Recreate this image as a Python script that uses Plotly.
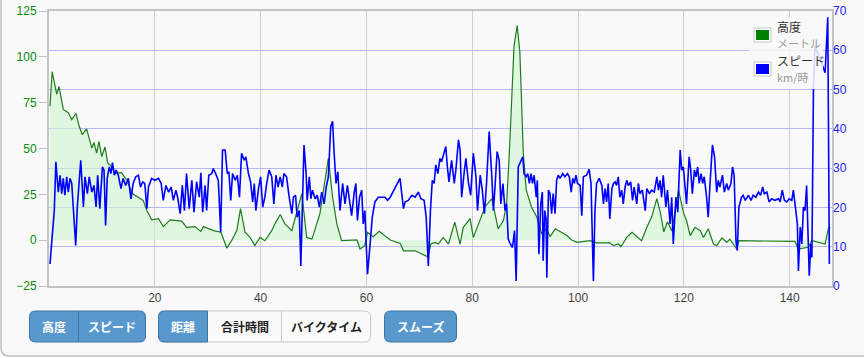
import plotly.graph_objects as go

# ---------------- data ----------------
elev_dist = [0.19, 0.6, 1.45, 1.9, 2.7, 3.65, 4.3, 5.1, 5.7, 6.3, 7.1, 8.1, 8.5, 9.0, 9.45, 9.96, 10.6, 11.1,
             11.7, 12.5, 13.7, 14.7, 15.75, 17.8, 18.5, 19.4, 20.7, 21.6, 22.9, 25.1, 26.0, 27.6, 28.7, 29.2,
             31.1, 32.5, 33.6, 34.5, 35.5, 36.2, 37.05, 38.0, 38.9, 39.9, 40.8, 42.1, 42.7, 43.7, 44.6, 45.9,
             47.1, 47.8, 48.7, 49.7, 51.2, 52.8, 53.6, 54.4, 55.3, 58.2, 58.8, 59.7, 60.2, 61.3, 62.4, 64.5,
             66.4, 67.0, 69.2, 71.6, 72.2, 73.0, 73.6, 74.5, 75.5, 76.7, 77.7, 78.3, 79.6, 80.2, 81.2, 82.4,
             83.7, 84.9, 85.9, 86.5, 87.1, 87.9, 88.5, 89.0, 89.65, 90.2, 91.2, 92.2, 93.1, 94.1, 94.7, 95.7,
             97.9, 98.8, 99.8, 102.3, 103.5, 106.0, 106.7, 107.6, 108.1, 109.2, 110.2, 111.4, 112.0, 113.0,
             113.9, 114.9, 115.6, 116.2, 116.9, 117.4, 117.7, 119.0, 119.9, 120.5, 121.2, 122.1, 123.1, 123.7,
             124.6, 125.6, 126.2, 127.2, 128.1, 128.7, 129.4, 130.0, 130.4, 141.0, 141.6, 143.5, 144.2, 146.7,
             147.3, 147.7]
elevation = [73, 91.9, 79.6, 83.8, 71.3, 69.5, 65.8, 69.1, 62.1, 57.5, 60.7, 50.2, 53.3, 47.5, 53.9, 45.6, 50.8, 42,
             40.5, 36.5, 36.8, 32.8, 25.4, 21.7, 16.2, 11.1, 11.7, 7.4, 11.1, 10.4, 7.0, 7.4, 4.8, 7.4,
             5.2, 4.3, -4.3, -0.3, 5.2, 17.2, 4.3, 1.5, -3, 1.5, -0.3, 5.2, 8.9, 14, 8.9, 5.2,
             18.1, 25.4, 1.5, 0.6, 14.4, 44.7, 23.6, 8.9, -0.3, 0.1, -4.8, -3, 4.3, 1.9, 4.8, 0.1,
             -1.8, -5.8, -5.8, -9.1, -2.1, -1.2, -2.1, 1.5, -2.1, 9.8, -2.1, 7.0, 11.7, 1.5, 8.9, 18.1,
             22.7, 6.2, 10.7, 19.9, 53, 106, 117, 102.5, 47.5, 27.3, 18.1, 12.6, 3.7, 6.2, 1.9, 6.2,
             2.5, 0.1, -1.2, -0.3, -1.5, -1.5, -3, -2.1, -3.6, 1.5, 4.3, 1.5, -0.3, 7,
             12.6, 22.7, 14.4, 4.5, 10, 7, 5, 27.3, 15.3, 10.7, 2.5, 7, 5.2, 1.5,
             6.2, -2.1, -3, 1.2, -1.2, 0.6, -2.1, -4.8, -0.3, -0.7, -4.8, -3.9, -0.3, -2.1,
             6.2, 7]

speed_dist = [0.19, 0.6, 1.0, 1.3, 1.76, 2.1, 2.4, 2.7, 3.0, 3.35, 3.65, 3.97, 4.3, 5.05, 5.35, 6.0, 6.5, 6.8,
              7.25, 7.6, 8.1, 8.5, 8.9, 9.2, 9.6, 10.1, 10.4, 10.7, 11.0, 11.4, 11.7, 12.0, 12.35, 12.7, 13.1,
              13.6, 14.0, 14.5, 15.0, 15.5, 15.9, 16.4, 16.9, 17.3, 17.7, 18.1, 18.5, 18.8, 19.4, 20.0, 20.7,
              21.2, 21.6, 22.1, 22.6, 23.1, 23.5, 24.0, 24.3, 24.8, 25.2, 25.6, 26.0, 26.5, 27.0, 27.4, 27.9,
              28.4, 28.7, 29.05, 29.5, 29.8, 30.2, 30.75, 31.05, 31.5, 32.0, 32.45, 32.8, 33.3, 33.7, 34.0,
              34.35, 34.7, 35.2, 35.6, 36.0, 36.4, 36.9, 37.2, 37.7, 38.1, 38.5, 38.8, 39.1, 39.6, 40.0, 40.4,
              40.8, 41.15, 41.6, 42.1, 42.5, 42.9, 43.3, 43.7, 44.1, 44.4, 44.9, 45.4, 45.9, 46.2, 46.6, 46.9,
              47.3, 47.6, 47.9, 48.2, 48.6, 48.8, 49.2, 49.5, 49.8, 50.3, 50.7, 51.1, 51.55, 52.0, 52.4, 52.8,
              53.25, 53.6, 53.9, 54.25, 54.6, 55.0, 55.5, 55.95, 56.4, 56.8, 57.2, 57.7, 58.0, 58.3, 58.7,
              59.1, 59.4, 59.7, 60.2, 60.7, 61.1, 61.6, 62.25, 63.5, 64.0, 64.5, 66.35, 67.0, 67.3, 67.9,
              68.6, 69.2, 69.8, 70.3, 70.9, 71.3, 71.7, 72.1, 72.45, 72.8, 73.1, 73.5, 73.9, 74.2, 74.5, 75.0,
              75.3, 75.6, 76.1, 76.6, 76.9, 77.4, 77.7, 78.0, 78.45, 78.8, 79.3, 79.7, 80.2, 80.7, 81.0, 81.5,
              81.9, 82.3, 82.7, 83.2, 83.7, 84.0, 84.3, 84.7, 85.1, 85.4, 85.8, 86.2, 86.5, 86.8, 87.1, 87.6,
              88.0, 88.3, 88.7, 89.2, 89.55, 89.8, 90.2, 90.5, 90.8, 91.1, 91.4, 91.7, 92.1, 92.3, 92.6, 92.95,
              93.25, 93.4, 93.7, 93.95, 94.1, 94.4, 94.7, 95.0, 95.3, 95.65, 95.95, 96.25, 96.6, 97.1, 97.5,
              98.0, 98.35, 98.7, 99.0, 99.3, 99.6, 99.9, 100.4, 100.7, 101.0, 101.6, 102.1, 102.45, 102.9,
              103.2, 103.5, 104.0, 104.5, 104.8, 105.1, 105.4, 105.7, 106.0, 106.4, 106.7, 107.0, 107.3,
              107.6, 107.9, 108.25, 108.55, 108.9, 109.2, 109.5, 109.95, 110.3, 110.6, 111.1, 111.4, 111.7,
              112.15, 112.7, 113.0, 113.5, 113.9, 114.4, 114.9, 115.2, 115.5, 115.8, 116.1, 116.6, 116.9,
              117.4, 117.7, 118.0, 118.5, 118.85, 119.3, 119.6, 119.9, 120.2, 120.5, 121.0, 121.3, 121.6,
              122.0, 122.3, 122.6, 122.9, 123.25, 123.55, 123.85, 124.3, 124.6, 124.95, 125.4, 125.8, 126.2,
              126.5, 126.8, 127.3, 127.65, 128.1, 128.4, 128.9, 129.2, 129.5, 129.85, 130.1, 130.4, 130.9,
              131.2, 131.6, 132.2, 132.7, 133.1, 133.6, 134.1, 134.5, 134.9, 135.2, 135.7, 136.1, 136.6,
              137.2, 137.9, 138.2, 138.6, 139.0, 139.45, 139.9, 140.4, 140.7, 141.15, 141.45, 141.65, 142.0,
              142.3, 142.6, 142.9, 143.2, 143.7, 144.0, 144.2, 144.5, 144.8, 145.75, 146.7, 147.2, 147.5]
speed = [5.6, 12.4, 19.2, 31.6, 23.9, 28.2, 23.5, 27.4, 23.1, 27.8, 23.9, 27.4, 26.1, 10.3, 20.1, 32, 20.1, 27.8,
         23.5, 27.8, 23.9, 25.6, 20.1, 28.2, 19.7, 30.3, 29.5, 15.4, 27.4, 30.3, 28.6, 31.4, 28.2, 29.5, 28.2,
         24.8, 27.4, 25.6, 27.4, 22.2, 26.1, 27.8, 28.2, 25.2, 26.5, 26.1, 19.7, 25.2, 27.4, 26.9, 27.4,
         26.1, 21.8, 25.6, 23.9, 25.2, 21.8, 24.4, 22.6, 18.4, 25.6, 19.2, 28.6, 19.7, 26.9, 18.8, 26.5,
         22.6, 28.8, 18.8, 25.6, 19.2, 28.2, 28.6, 29.9, 28.6, 26.9, 13.7, 34.6, 34.6, 28.6, 29.1,
         21.8, 28.6, 26.9, 28.2, 22.6, 33.8, 32, 32.9, 28.6, 26.5, 21.4, 26.1, 19.2, 24.8, 27.8, 20.1,
         22.6, 26.1, 29.5, 27.8, 20.9, 28.2, 25.2, 27.8, 25.2, 28.6, 27.8, 22.6, 18.4, 22.6, 23.1, 17.5,
         19.2, 5.1, 22.6, 35.9, 28.6, 21.8, 27.8, 22.2, 24.4, 22.2, 23.1, 20.1, 23.9, 20.9, 25.2, 27.8,
         40.6, 41.9, 33.8, 26.1, 29.1, 19.2, 26.1, 20.9, 25.6, 22.2, 17.9, 23.9, 26.1, 16.7, 22.6,
         24.4, 15.8, 19.2, 3.0, 10.7, 17.5, 21.4, 22.6, 22.6, 21.8, 22.6, 27.4, 19.7, 21.4, 21.8,
         23.1, 22.6, 23.9, 22.2, 21.8, 17.5, 5.1, 19.2, 26.9, 26.1, 30.8, 28.6, 32.5, 31.6, 32.9, 35.5,
         30.3, 26.5, 32, 26.1, 29.5, 37.2, 34.6, 22.6, 28.6, 32.5, 26.1, 23.1, 33.8, 27.8, 19.2, 28.2,
         24.4, 18.4, 26.1, 39.3, 27.8, 19.2, 25.2, 34.2, 32, 20.9, 26.1, 19.2, 20.9, 12, 11.0, 9.8,
         14.1, 1.3, 30.3, 31.6, 32.9, 28.6, 27.8, 28.6, 26.1, 28.6, 26.1, 28.2, 22.6, 26.9, 8.1, 20.9,
         23.9, 6.4, 19.2, 17.1, 2.1, 24.4, 23.5, 18.4, 23.5, 18.4, 26.9, 28.2, 27.4, 28.6, 27.8,
         28.6, 27.8, 23.9, 27.4, 26.1, 28.2, 26.1, 25.6, 17.9, 27.8, 28.2, 29.7, 26.1, 1.3,
         19.2, 26.1, 27.4, 25.6, 20.9, 24.8, 21.4, 26.1, 17.1, 24.8, 26.1, 26.5, 25.6,
         27.8, 22.6, 24.4, 20.9, 25.2, 26.9, 25.6, 26.5, 21.8, 25.2, 20.9, 26.1, 23.5,
         24.4, 19.2, 24.8, 23.5, 24.4, 23.9, 27.8, 24.4, 26.9, 22.6, 28.2, 20.1, 24.4,
         15.8, 22.6, 10.7, 22.6, 18.8, 34.6, 29.5, 30.3, 26.1, 20.9, 32.9, 29.5, 23.5,
         29.5, 27.8, 30.3, 26.1, 28.6, 26.1, 27.8, 22.6, 17.5, 26.1, 35.9, 32.9, 23.9,
         26.9, 25.2, 28.2, 23.9, 26.1, 24.4, 26.1, 30.3, 28.2, 11.5, 9.0, 20.1, 22.6,
         23.1, 21.8, 23.1, 21.8, 23.1, 22.6, 23.9, 23.1, 25.2, 23.5, 23.9, 21.4, 22.2,
         21.8, 22.2, 21.4, 24.4, 21.8, 21.4, 22.2, 21.8, 24.4, 19.2, 15.8, 3.8, 15.0,
         10.7, 20.1, 19.2, 25.6, 2.6, 10.7, 7.3, 50.8, 61.1, 57.7, 54.3, 68.4, 5.6]

x_ticks = [20, 40, 60, 80, 100, 120, 140]
elev_ticks = [-25, 0, 25, 50, 75, 100, 125]
speed_ticks = [0, 10, 20, 30, 40, 50, 60, 70]

legend_titles = ["高度", "スピード"]
legend_units = ["メートル", "km/時"]
buttons_group1 = ["高度", "スピード"]
buttons_group2 = ["距離", "合計時間", "バイクタイム"]
buttons_group3 = ["スムーズ"]

# ---------------- layout geometry (pixels) ----------------
W_PX, H_PX = 864, 358
L, R, T, B = 49, 832, 11, 286        # plot area
PW, PH = R - L, B - T


def fx(x):
    return (x - L) / PW


def fy(y):
    return (B - y) / PH


def rpath(x0, y0, x1, y1, rl, rr):
    """rounded rectangle path in paper coords from pixel coords; rl/rr = left/right radius"""
    p = []
    p.append(f"M{fx(x0 + rl)},{fy(y0)}")
    p.append(f"L{fx(x1 - rr)},{fy(y0)}")
    p.append(f"Q{fx(x1)},{fy(y0)} {fx(x1)},{fy(y0 + rr)}")
    p.append(f"L{fx(x1)},{fy(y1 - rr)}")
    p.append(f"Q{fx(x1)},{fy(y1)} {fx(x1 - rr)},{fy(y1)}")
    p.append(f"L{fx(x0 + rl)},{fy(y1)}")
    p.append(f"Q{fx(x0)},{fy(y1)} {fx(x0)},{fy(y1 - rl)}")
    p.append(f"L{fx(x0)},{fy(y0 + rl)}")
    p.append(f"Q{fx(x0)},{fy(y0)} {fx(x0 + rl)},{fy(y0)}")
    p.append("Z")
    return " ".join(p)


FONT = "Liberation Sans, Arial, sans-serif"
JFONT = "Noto Sans CJK JP, sans-serif"

fig = go.Figure()
fig.add_trace(go.Scatter(x=elev_dist, y=elevation, mode="lines", yaxis="y",
                         line=dict(color="#1e7d1e", width=1.2),
                         fill="tozeroy", fillcolor="rgba(205,245,205,0.6)",
                         hoverinfo="skip", showlegend=False))
fig.add_trace(go.Scatter(x=speed_dist, y=speed, mode="lines", yaxis="y2",
                         line=dict(color="#0000ff", width=1.6),
                         hoverinfo="skip", showlegend=False))

shapes = []
annotations = []

# outer container
shapes.append(dict(type="path", xref="paper", yref="paper", layer="below",
                   path=rpath(1, -12, 875, 356, 8, 8),
                   fillcolor="#f9f9f9", line=dict(color="#bfbfbf", width=1.5)))

# legend
shapes.append(dict(type="rect", xref="paper", yref="paper", layer="above",
                   x0=fx(749), x1=fx(823), y0=fy(17), y1=fy(89),
                   fillcolor="rgba(249,249,249,0.85)", line=dict(width=0)))
leg_colors = ["#008000", "#0000ff"]
sq_tops = [28, 62]
title_y = [26, 61]
unit_y = [43, 77]
for i in range(2):
    shapes.append(dict(type="rect", xref="paper", yref="paper", layer="above",
                       x0=fx(754), x1=fx(771), y0=fy(sq_tops[i]), y1=fy(sq_tops[i] + 14),
                       fillcolor="white", line=dict(color="#c8c8c8", width=1)))
    shapes.append(dict(type="rect", xref="paper", yref="paper", layer="above",
                       x0=fx(756), x1=fx(769), y0=fy(sq_tops[i] + 2), y1=fy(sq_tops[i] + 12),
                       fillcolor=leg_colors[i], line=dict(width=0)))
    annotations.append(dict(xref="paper", yref="paper", x=fx(775), y=fy(title_y[i]),
                            xanchor="left", yanchor="middle", showarrow=False,
                            text=legend_titles[i], font=dict(family=JFONT, size=12, color="#333333")))
    annotations.append(dict(xref="paper", yref="paper", x=fx(775), y=fy(unit_y[i]),
                            xanchor="left", yanchor="middle", showarrow=False,
                            text=legend_units[i], font=dict(family=JFONT, size=11, color="#999999")))

# buttons
BTOP, BBOT = 311, 342
BLUE = "#5898cd"
BLUE_LINE = "#3c76a8"
GRAY_LINE = "#c9c9c9"


def blue_text(x, t):
    annotations.append(dict(xref="paper", yref="paper", x=fx(x), y=fy((BTOP + BBOT) / 2),
                            xanchor="center", yanchor="middle", showarrow=False,
                            text="<b>" + t + "</b>", font=dict(family=JFONT, size=12, color="white")))


def dark_text(x, t):
    annotations.append(dict(xref="paper", yref="paper", x=fx(x), y=fy((BTOP + BBOT) / 2),
                            xanchor="center", yanchor="middle", showarrow=False,
                            text="<b>" + t + "</b>", font=dict(family=JFONT, size=12, color="#222222")))


# group 1
shapes.append(dict(type="path", xref="paper", yref="paper", path=rpath(29.5, BTOP, 145.5, BBOT, 6, 6),
                   fillcolor=BLUE, line=dict(color=BLUE_LINE, width=1)))
shapes.append(dict(type="line", xref="paper", yref="paper", x0=fx(78.5), x1=fx(78.5), y0=fy(BTOP), y1=fy(BBOT),
                   line=dict(color=BLUE_LINE, width=1)))
blue_text(54, buttons_group1[0])
blue_text(112, buttons_group1[1])

# group 2
shapes.append(dict(type="path", xref="paper", yref="paper", path=rpath(158.5, BTOP, 370.5, BBOT, 6, 6),
                   fillcolor="#fbfbfb", line=dict(color=GRAY_LINE, width=1)))
shapes.append(dict(type="path", xref="paper", yref="paper", path=rpath(158.5, BTOP, 207.5, BBOT, 6, 0),
                   fillcolor=BLUE, line=dict(color=BLUE_LINE, width=1)))
shapes.append(dict(type="line", xref="paper", yref="paper", x0=fx(281.5), x1=fx(281.5), y0=fy(BTOP), y1=fy(BBOT),
                   line=dict(color=GRAY_LINE, width=1)))
blue_text(183, buttons_group2[0])
dark_text(244.5, buttons_group2[1])
dark_text(326, buttons_group2[2])

# group 3
shapes.append(dict(type="path", xref="paper", yref="paper", path=rpath(384.5, BTOP, 456.5, BBOT, 6, 6),
                   fillcolor=BLUE, line=dict(color=BLUE_LINE, width=1)))
blue_text(420.5, buttons_group3[0])

fig.update_layout(
    width=W_PX, height=H_PX,
    margin=dict(l=L, r=W_PX - R, t=T, b=H_PX - B, pad=0, autoexpand=False),
    paper_bgcolor="white",
    plot_bgcolor="rgba(0,0,0,0)",
    showlegend=False,
    hovermode=False,
    xaxis=dict(range=[0, 148], tickvals=x_ticks, showgrid=True, gridcolor="#cfcfcf", gridwidth=1,
               zeroline=False, showline=True, mirror=True, linecolor="#c4c4c4", linewidth=2,
               ticks="", automargin=False, tickfont=dict(family=FONT, size=12, color="#444444")),
    yaxis=dict(range=[-25, 125], tickvals=elev_ticks, showgrid=False, zeroline=False,
               showline=True, mirror=True, linecolor="#c4c4c4", linewidth=2,
               ticks="outside", ticklen=8, tickcolor="#c4c4c4", tickwidth=1, automargin=False,
               tickfont=dict(family=FONT, size=12, color="#0a8a0a")),
    yaxis2=dict(range=[0, 70], tickvals=speed_ticks, overlaying="y", side="right",
                showgrid=True, gridcolor="#b8b8f6", gridwidth=1, zeroline=False, showline=False,
                ticks="", automargin=False, tickfont=dict(family=FONT, size=12, color="#2020ff")),
    shapes=shapes,
    annotations=annotations,
)

# place the figure flush with the page's top-left corner
fig.write_html("out.html", config={"displayModeBar": False, "staticPlot": True},
               post_script="document.body.style.margin='0';")
